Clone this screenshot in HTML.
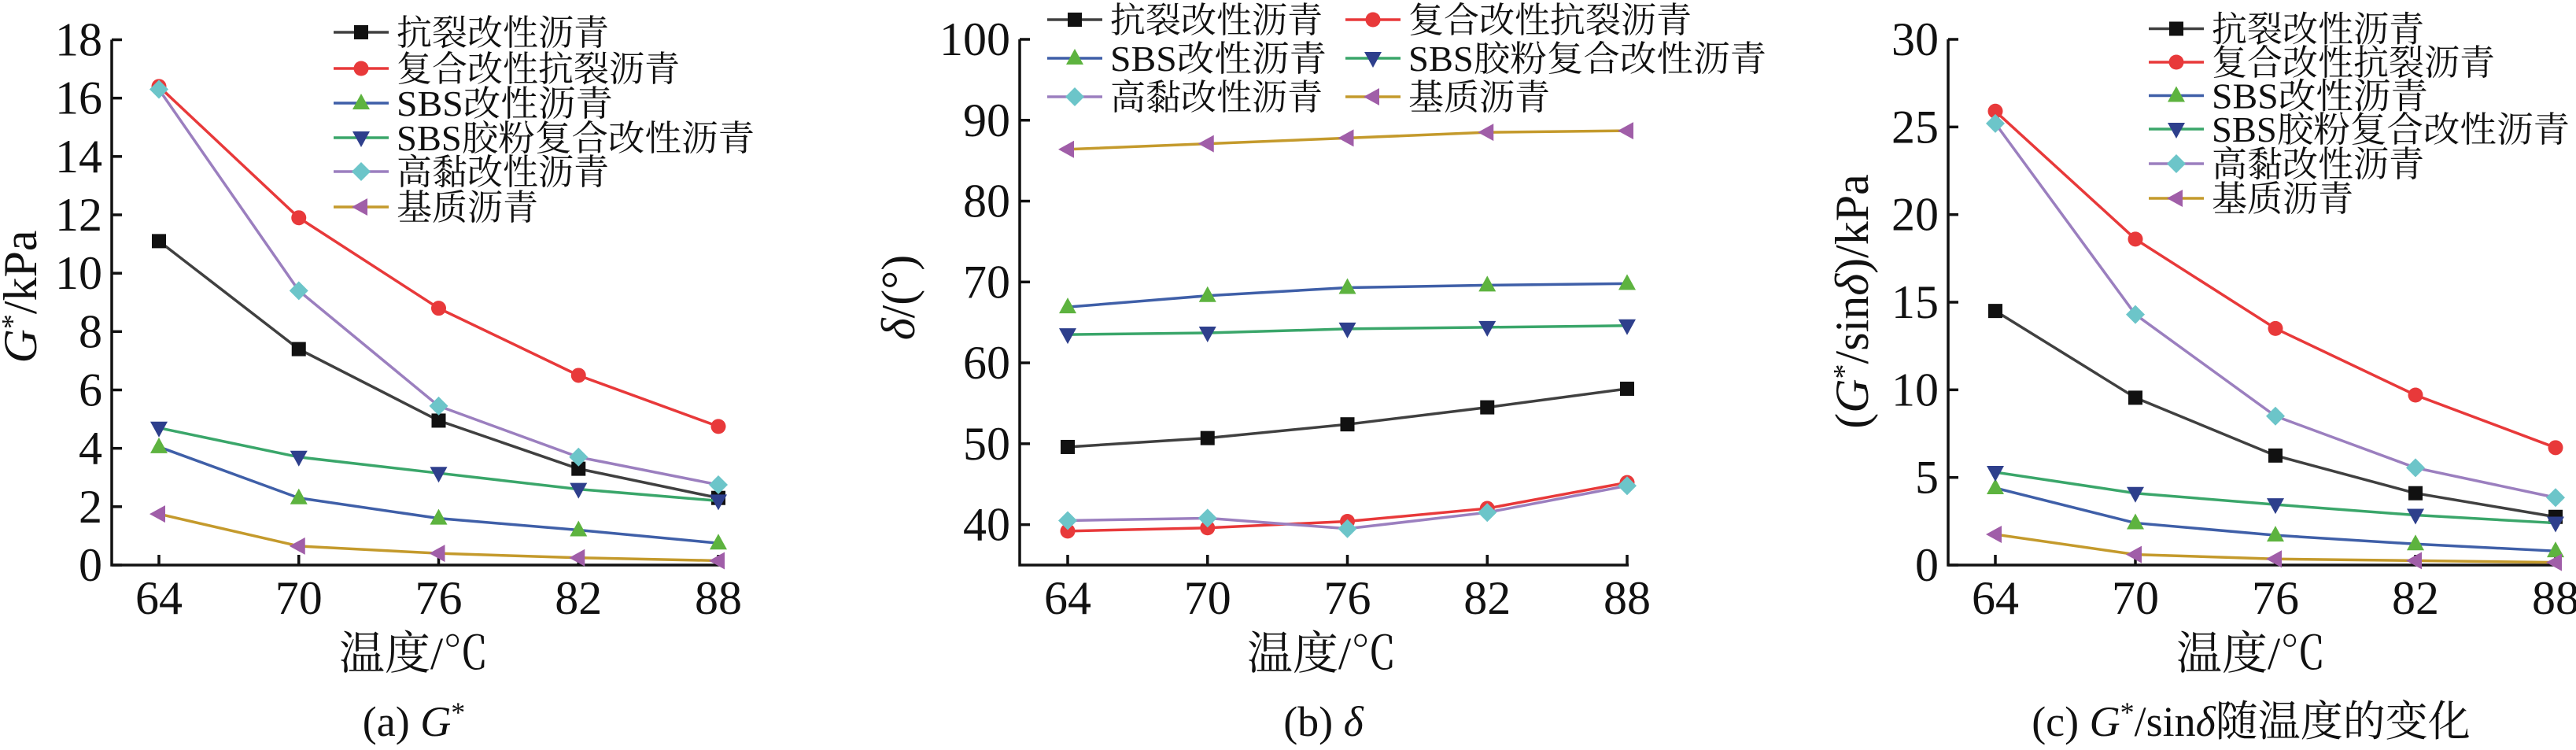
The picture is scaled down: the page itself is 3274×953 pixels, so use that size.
<!DOCTYPE html>
<html><head><meta charset="utf-8"><style>
html,body{margin:0;padding:0;background:#fff;}
svg{display:block;}
text{font-family:"Liberation Serif","Noto Serif CJK SC",serif;fill:#111;}
</style></head><body>
<svg id="chart" width="3274" height="953" viewBox="0 0 3274 953" xmlns="http://www.w3.org/2000/svg"></svg>
<script>
const categories = [64, 70, 76, 82, 88];
const seriesNames = ["抗裂改性沥青","复合改性抗裂沥青","SBS改性沥青","SBS胶粉复合改性沥青","高黏改性沥青","基质沥青"];
const gStar1 = [11.1, 7.4, 4.95, 3.3, 2.3];
const gStar2 = [16.4, 11.9, 8.8, 6.5, 4.75];
const gStar3 = [4.05, 2.3, 1.6, 1.2, 0.75];
const gStar4 = [4.7, 3.7, 3.15, 2.6, 2.2];
const gStar5 = [16.3, 9.4, 5.45, 3.7, 2.75];
const gStar6 = [1.75, 0.65, 0.4, 0.25, 0.15];
const delta1 = [49.6, 50.7, 52.4, 54.5, 56.8];
const delta2 = [39.2, 39.6, 40.4, 42.0, 45.2];
const delta3 = [66.9, 68.3, 69.3, 69.6, 69.8];
const delta4 = [63.5, 63.7, 64.2, 64.4, 64.6];
const delta5 = [40.5, 40.8, 39.5, 41.5, 44.8];
const delta6 = [86.4, 87.1, 87.8, 88.5, 88.7];
const gsin1 = [14.5, 9.55, 6.25, 4.1, 2.75];
const gsin2 = [25.9, 18.6, 13.5, 9.7, 6.7];
const gsin3 = [4.4, 2.4, 1.7, 1.2, 0.8];
const gsin4 = [5.3, 4.1, 3.45, 2.85, 2.4];
const gsin5 = [25.2, 14.3, 8.5, 5.55, 3.85];
const gsin6 = [1.75, 0.6, 0.35, 0.25, 0.15];
const ticksA = [0,2,4,6,8,10,12,14,16,18];
const ticksB = [40,50,60,70,80,90,100];
const ticksC = [0,5,10,15,20,25,30];

const NS = "http://www.w3.org/2000/svg";
const svg = document.getElementById("chart");
const lineColors = ["#404040","#e8393a","#3f5fa8","#3aa66a","#9b7fbf","#c49a2c"];
const markColors = ["#111111","#e8393a","#5db33f","#2e3f8c","#6cc5c9","#a05ea8"];
const markTypes = ["square","circle","up","down","diamond","left"];
const slugs = ["kanglie","fuhe","sbs","sbs-jiaofen","gaonian","jizhi"];

function el(tag, attrs, parent){
  const e = document.createElementNS(NS, tag);
  for (const k in attrs) e.setAttribute(k, attrs[k]);
  (parent||svg).appendChild(e);
  return e;
}
function marker(type, x, y, color, parent){
  const s = 10;
  let e;
  if (type==="square") e = el("rect",{x:x-s+1,y:y-s+1,width:2*s-2,height:2*s-2,fill:color},parent);
  else if (type==="circle") e = el("circle",{cx:x,cy:y,r:s-0.5,fill:color},parent);
  else if (type==="up") e = el("polygon",{points:`${x},${y-s-2} ${x+s+1},${y+s-2} ${x-s-1},${y+s-2}`,fill:color},parent);
  else if (type==="down") e = el("polygon",{points:`${x},${y+s+2} ${x+s+1},${y-s+2} ${x-s-1},${y-s+2}`,fill:color},parent);
  else if (type==="diamond") e = el("polygon",{points:`${x},${y-s-2} ${x+s+2},${y} ${x},${y+s+2} ${x-s-2},${y}`,fill:color},parent);
  else e = el("polygon",{points:`${x-s-2},${y} ${x+s-2},${y-s-1} ${x+s-2},${y+s+1}`,fill:color},parent);
  return e;
}

function panel(cfg){
  const g = el("g",{});
  
  
  const xScale = v => cfg.x0 + (v - categories[0])/(categories[4]-categories[0])*(cfg.x1-cfg.x0);
  const yScale = v => cfg.yb - (v - cfg.ymin)/(cfg.ymax-cfg.ymin)*(cfg.yb-cfg.yt);
  const ax = el("path",{d:`M${cfg.ax},${yScale(cfg.ticks[cfg.ticks.length-1])} L${cfg.ax},${cfg.yb} L${cfg.x1+2},${cfg.yb}`,stroke:"#111","stroke-width":3.5,fill:"none"},g);
  
  
  cfg.ticks.forEach(t=>{
    const y = yScale(t);
    el("line",{x1:cfg.ax,y1:y,x2:cfg.ax+13,y2:y,stroke:"#111","stroke-width":3.5},g);
    const tx = el("text",{x:cfg.ax-12,y:y+20,"text-anchor":"end","font-size":60},g);
    tx.textContent = t;
    
    
  });
  categories.forEach(c=>{
    const x = xScale(c);
    el("line",{x1:x,y1:cfg.yb,x2:x,y2:cfg.yb-13,stroke:"#111","stroke-width":3.5},g);
    const tx = el("text",{x:x,y:cfg.yb+62,"text-anchor":"middle","font-size":60},g);
    tx.textContent = c;
    
    
  });
  cfg.data.forEach((arr,i)=>{
    const pts = arr.map((v,j)=>`${xScale(categories[j])},${yScale(v)}`).join(" ");
    const pl = el("polyline",{points:pts,fill:"none",stroke:lineColors[i],"stroke-width":3.5},g);
    
    
    arr.forEach((v,j)=>{
      const m = marker(markTypes[i], xScale(categories[j]), yScale(v), markColors[i], g);
      
      
    });
  });
  cfg.legend.forEach((p,i)=>{
    const lg = el("g",{},g);
    
    
    el("line",{x1:p[0],y1:p[1],x2:p[0]+70,y2:p[1],stroke:lineColors[i],"stroke-width":3.5},lg);
    marker(markTypes[i], p[0]+35, p[1], markColors[i], lg);
    const t = el("text",{x:p[0]+80,y:p[1]+16,"font-size":45,textLength:seriesNames[i].length*45 - (seriesNames[i].startsWith("SBS")?40:0),lengthAdjust:"spacingAndGlyphs"},lg);
    t.textContent = seriesNames[i];
  });
  const xt = el("text",{x:cfg.xtx,y:850,"text-anchor":"middle","font-size":58},g);
  xt.textContent = "温度/℃";
  
  
  const yt = el("text",{x:0,y:0,"text-anchor":"middle","font-size":60,transform:`translate(${cfg.ytx},${cfg.yty}) rotate(-90)`},g);
  yt.innerHTML = cfg.ytitle;
  
  
  const cp = el("text",{x:cfg.capx,y:935,"text-anchor":"middle","font-size":54},g);
  cp.innerHTML = cfg.caption;
  
  
}

panel({name:"panel-a-gstar", ax:142, x0:202, x1:913, yb:718, yt:50.5, ymin:0, ymax:18, ticks:ticksA,
  data:[gStar1,gStar2,gStar3,gStar4,gStar5,gStar6],
  legend:[[424,41],[424,87],[424,131],[424,175],[424,218],[424,263]],
  xtx:526, ytx:46, yty:377,
  ytitle:'<tspan font-style="italic">G</tspan><tspan dy="-18" font-size="38">*</tspan><tspan dy="18">/kPa</tspan>',
  capx:526, caption:'(a) <tspan font-style="italic">G</tspan><tspan dy="-18" font-size="36">*</tspan>'});
panel({name:"panel-b-delta", ax:1296, x0:1357, x1:2068, yb:718, yt:50, ymin:35, ymax:100, ticks:ticksB,
  data:[delta1,delta2,delta3,delta4,delta5,delta6],
  legend:[[1331,25],[1710,25],[1331,74],[1710,74],[1331,123],[1710,123]],
  xtx:1680, ytx:1162, yty:378,
  ytitle:'<tspan font-style="italic">δ</tspan>/(°)',
  capx:1682, caption:'(b) <tspan font-style="italic">δ</tspan>'});
panel({name:"panel-c-gstar-sindelta", ax:2476, x0:2536, x1:3248, yb:718, yt:50, ymin:0, ymax:30, ticks:ticksC,
  data:[gsin1,gsin2,gsin3,gsin4,gsin5,gsin6],
  legend:[[2731,36.5],[2731,79],[2731,121.5],[2731,164],[2731,208],[2731,252]],
  xtx:2861, ytx:2374, yty:383,
  ytitle:'(<tspan font-style="italic">G</tspan><tspan dy="-18" font-size="38">*</tspan><tspan dy="18">/sin</tspan><tspan font-style="italic">δ</tspan>)/kPa',
  capx:2861, caption:'(c) <tspan font-style="italic">G</tspan><tspan dy="-18" font-size="36">*</tspan><tspan dy="18">/sin</tspan><tspan font-style="italic">δ</tspan>随温度的变化'});
</script>
</body></html>
